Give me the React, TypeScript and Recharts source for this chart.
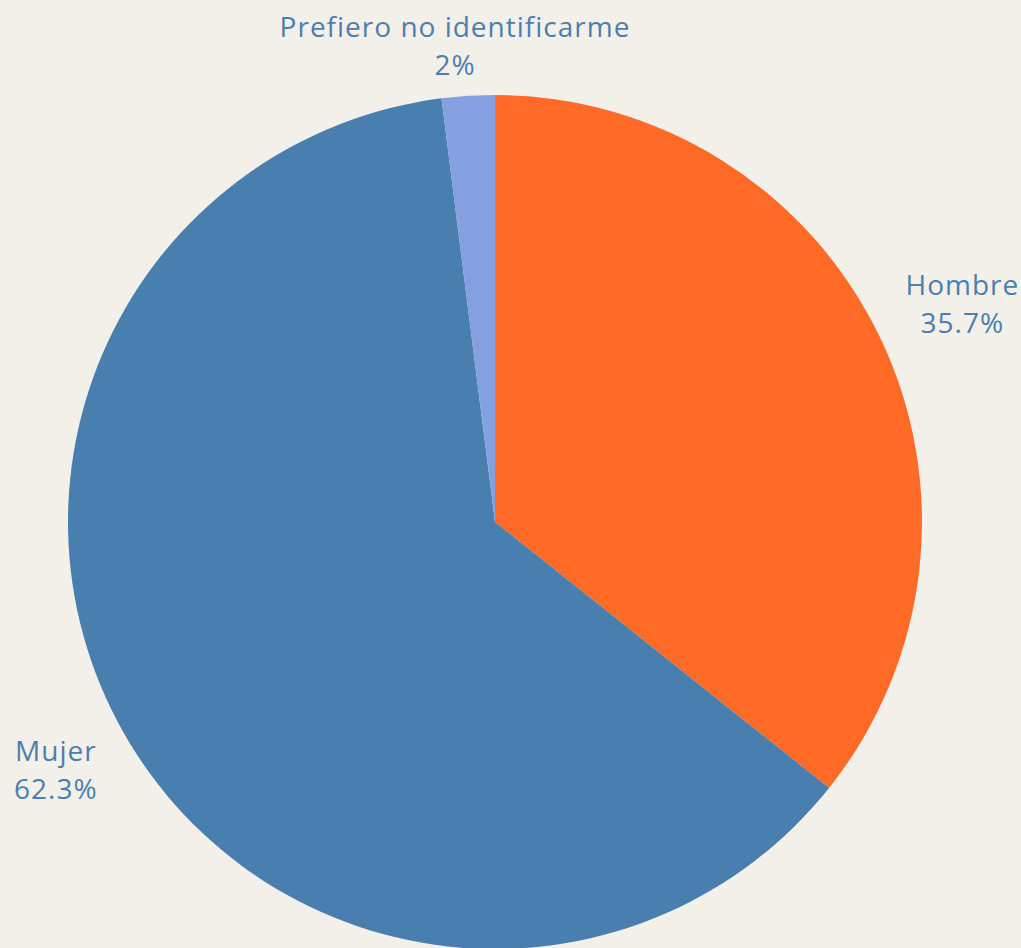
import { PieChart, Pie, Cell } from "recharts";

const CATEGORIES = ["Hombre", "Mujer", "Prefiero no identificarme"];
const PERCENTS = [35.7, 62.3, 2];
const COLORS = ["#FF6A26", "#497FAF", "#85A0E0"];
const PERCENT_LABELS = ["35.7%", "62.3%", "2%"];

const DATA = CATEGORIES.map((name, i) => ({ name, value: PERCENTS[i] }));

const FONT = "'Open Sans', Lato, sans-serif";
const TEXT_COLOR = "#4A7FB0";
const FONT_SIZE = 28;
const SPACING = 1;
const LINE = 38;
const RAD = Math.PI / 180;

let ctx: CanvasRenderingContext2D | null = null;
function textWidth(s: string) {
  if (!ctx) ctx = document.createElement("canvas").getContext("2d");
  if (!ctx) return s.length * FONT_SIZE * 0.55;
  ctx.font = `400 ${FONT_SIZE}px ${FONT}`;
  return ctx.measureText(s).width + s.length * SPACING;
}

function renderLabel(props: any) {
  const { cx, cy, outerRadius, midAngle, index } = props;
  const name = CATEGORIES[index];
  const pct = PERCENT_LABELS[index];
  const cos = Math.cos(-midAngle * RAD);
  const sin = Math.sin(-midAngle * RAD);
  // anchor just outside the slice, then push the text block outward
  const gap = 35;
  const px = cx + (outerRadius + gap) * cos;
  const py = cy + (outerRadius + gap) * sin;
  const w = Math.max(textWidth(name), textWidth(pct));
  const vy = 14 + 32 * Math.abs(cos);
  const bx = px + (w / 2) * cos;
  const by = py + vy * sin;
  return (
    <text
      x={bx}
      y={by - LINE / 2}
      textAnchor="middle"
      dominantBaseline="central"
      fill={TEXT_COLOR}
      fontFamily={FONT}
      fontSize={FONT_SIZE}
      fontWeight={400}
      letterSpacing={SPACING}
    >
      <tspan x={bx} dy={0}>{name}</tspan>
      <tspan x={bx} dy={LINE}>{pct}</tspan>
    </text>
  );
}

export default function App() {
  return (
    <div style={{ width: 1021, height: 948, background: "#F3F0EA", overflow: "hidden" }}>
      <style>{"body{margin:0}"}</style>
      <PieChart width={1021} height={948} margin={{ top: 0, right: 0, bottom: 0, left: 0 }}>
        <Pie
          data={DATA}
          dataKey="value"
          nameKey="name"
          cx={495}
          cy={522}
          outerRadius={427}
          startAngle={90}
          endAngle={-270}
          stroke="none"
          label={renderLabel}
          labelLine={false}
          isAnimationActive={false}
        >
          {DATA.map((d, i) => (
            <Cell key={d.name} fill={COLORS[i]} />
          ))}
        </Pie>
      </PieChart>
    </div>
  );
}
